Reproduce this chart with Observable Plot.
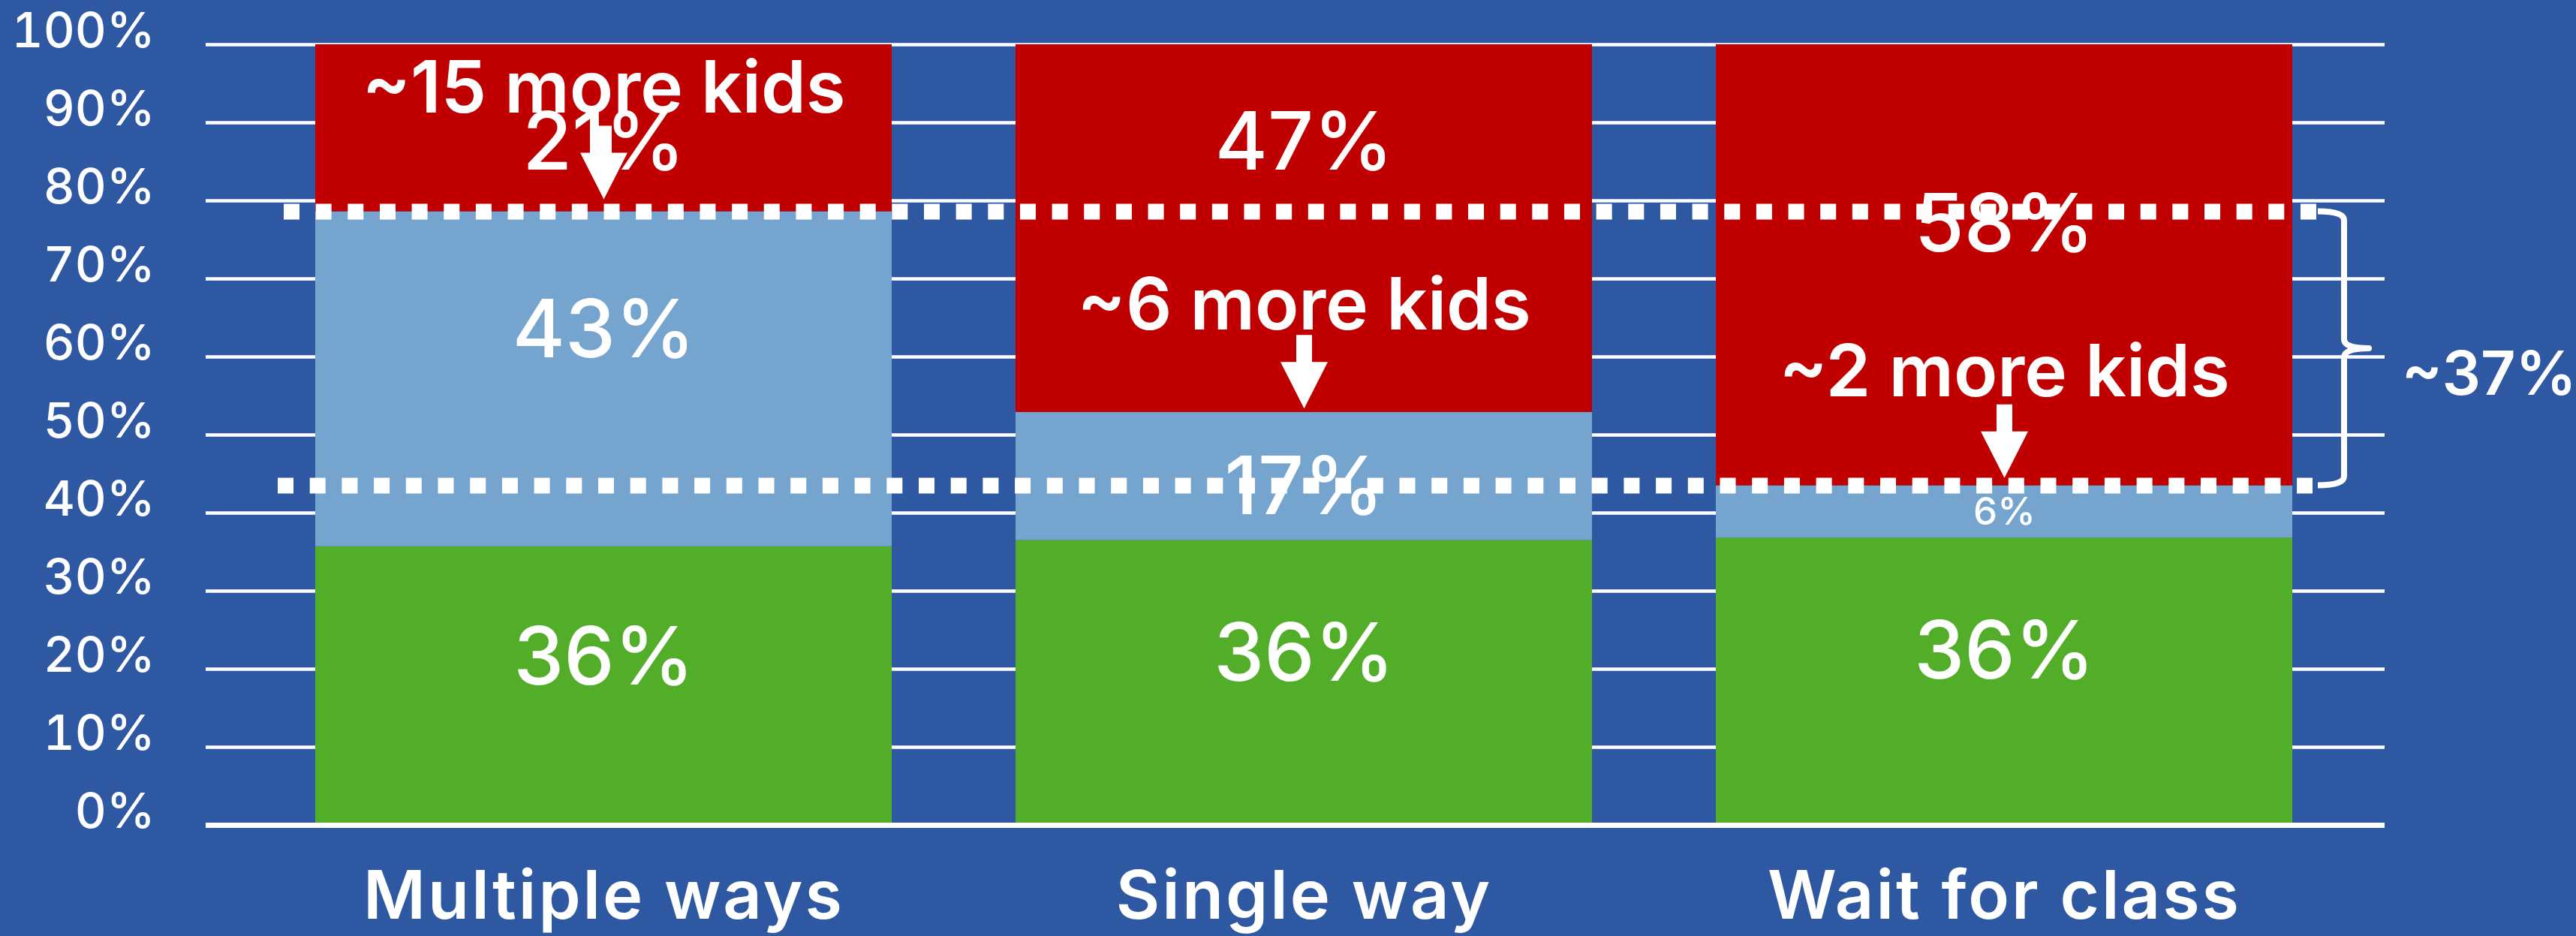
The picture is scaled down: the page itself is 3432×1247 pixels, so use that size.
<!DOCTYPE html>
<html>
<head>
<meta charset="utf-8">
<script src="https://cdn.jsdelivr.net/npm/d3@7"></script>
<script src="https://cdn.jsdelivr.net/npm/@observablehq/plot@0.6"></script>
<style>
html, body { margin: 0; padding: 0; background: #2E58A1; overflow: hidden; }
#chart svg { display: block; }
#chart g[aria-label="x-axis tick label"] text { letter-spacing: 3px; }
</style>
</head>
<body>
<div id="chart"></div>
<script>
// ---- data ----
const categories = ["Multiple ways", "Single way", "Wait for class"];
const segments = ["bottom", "middle", "top"];           // stacked bottom → top
const bottomValues = [35.7, 36.5, 36.8];                 // green
const middleValues = [42.9, 16.4, 6.7];                  // light blue
const topValues = [21.4, 47.1, 56.5];                    // red
const bottomLabels = ["36%", "36%", "36%"];
const middleLabels = ["43%", "17%", "6%"];
const topLabels = ["21%", "47%", "58%"];
// where each printed label sits (baseline, in % units)
const bottomLabelAt = [18.0, 18.5, 18.8];
const middleLabelAt = [60.0, 39.9, 38.5];
const topLabelAt = [84.0, 84.0, 73.5];
// annotations
const annotationTexts = ["~15 more kids", "~6 more kids", "~2 more kids"];
const annotationAt = [91.3, 63.5, 55.0];
const arrowTipAt = [80.2, 53.4, 44.5];
const gapLabel = "~37%";
const gapLabelAt = 55.1;
const yTicks = [0, 10, 20, 30, 40, 50, 60, 70, 80, 90, 100];

// ---- tables built from the arrays ----
const rows = [];
categories.forEach((c, i) => {
  rows.push({category: c, segment: "bottom", value: bottomValues[i], label: bottomLabels[i], labelAt: bottomLabelAt[i]});
  rows.push({category: c, segment: "middle", value: middleValues[i], label: middleLabels[i], labelAt: middleLabelAt[i]});
  rows.push({category: c, segment: "top", value: topValues[i], label: topLabels[i], labelAt: topLabelAt[i]});
});
const annotations = categories.map((c, i) => ({category: c, text: annotationTexts[i], at: annotationAt[i], tip: arrowTipAt[i]}));

// reference levels (dotted lines): top of the middle segment in the first and last bars
const upperLevel = bottomValues[0] + middleValues[0];
const lowerLevel = bottomValues[2] + middleValues[2];

const FONT = "Inter, 'Noto Sans', sans-serif";

// downward arrow: shaft + head, tip at the anchor point
const arrowShape = {
  draw(context, l) {
    const s = 10.5, h = 31.5, H = 62;
    context.moveTo(-s, 0);
    context.lineTo(-s, -(l - H));
    context.lineTo(-h, -(l - H));
    context.lineTo(0, -l);
    context.lineTo(h, -(l - H));
    context.lineTo(s, -(l - H));
    context.lineTo(s, 0);
    context.closePath();
  }
};

// curly brace between the two dotted levels, right of the last bar
function brace(index, scales, values, dimensions, context) {
  const {x, y} = scales;
  const bw = typeof x.bandwidth === "function" ? x.bandwidth() : x.bandwidth;
  const xe = x(categories[2]) + bw;
  const x0 = xe + 34, xv = xe + 69, xt = xe + 102;
  const yT = y(upperLevel), yB = y(lowerLevel), yM = (yT + yB) / 2;
  const r = 12;
  const p = d3.path();
  p.moveTo(x0, yT);
  p.quadraticCurveTo(xv, yT, xv, yT + r);
  p.lineTo(xv, yM - r);
  p.quadraticCurveTo(xv, yM, xt, yM);
  p.quadraticCurveTo(xv, yM, xv, yM + r);
  p.lineTo(xv, yB - r);
  p.quadraticCurveTo(xv, yB, x0, yB);
  const g = d3.create("svg:path")
    .attr("d", p.toString())
    .attr("fill", "none")
    .attr("stroke", "white")
    .attr("stroke-width", 8)
    .attr("stroke-linejoin", "round");
  return g.node();
}

const chart = Plot.plot({
  width: 3432,
  height: 1247,
  marginLeft: 274,
  marginRight: 255,
  marginTop: 59,
  marginBottom: 148,
  style: {background: "#2E58A1", color: "white", fontFamily: FONT, fontSize: "65px"},
  x: {domain: categories, range: [420, 3054], paddingInner: 0.177, paddingOuter: 0},
  y: {domain: [0, 100]},
  color: {domain: segments, range: ["#52AD29", "#75A5CE", "#C00000"]},
  marks: [
    Plot.ruleY(yTicks.filter(t => t > 0), {stroke: "white", strokeWidth: 4.5}),
    Plot.barY(rows, {x: "category", y: "value", fill: "segment"}),
    Plot.ruleY([0], {stroke: "white", strokeWidth: 7}),
    Plot.axisY({ticks: yTicks, tickFormat: d => d + "%", tickSize: 0, tickPadding: 68, fontSize: 65, fontWeight: 500, lineAnchor: "bottom", dy: 3, label: null, fill: "white"}),
    Plot.axisX({tickSize: 0, tickPadding: 124, lineAnchor: "bottom", fontSize: 90, fontWeight: 600, label: null, fill: "white"}),
    Plot.text(rows, {x: "category", y: "labelAt", text: "label", fill: "white", lineAnchor: "bottom",
      fontSize: d => d.value < 10 ? 51 : 107, fontWeight: 500, fontFamily: FONT}),
    Plot.ruleY([upperLevel], {x1: () => categories[0], x2: () => categories[2], insetLeft: -42, insetRight: -33,
      stroke: "white", strokeWidth: 21, strokeDasharray: "21 21.65"}),
    Plot.ruleY([lowerLevel], {x1: () => categories[0], x2: () => categories[2], insetLeft: -50, insetRight: -27,
      stroke: "white", strokeWidth: 21, strokeDasharray: "21 21.7"}),
    Plot.text(annotations, {x: "category", y: "at", text: "text", fill: "white", lineAnchor: "bottom",
      fontSize: 96, fontWeight: 600, fontFamily: FONT}),
    Plot.vector(annotations, {x: "category", y: "tip", length: 98, rotate: 180, anchor: "end", shape: arrowShape,
      fill: "white", stroke: "none"}),
    brace,
    Plot.text([gapLabel], {frameAnchor: "right", y: () => gapLabelAt, text: d => d, dx: 22, textAnchor: "start",
      lineAnchor: "bottom", fill: "white", fontSize: 81, fontWeight: 600, fontFamily: FONT})
  ]
});
document.getElementById("chart").appendChild(chart);
</script>
</body>
</html>
